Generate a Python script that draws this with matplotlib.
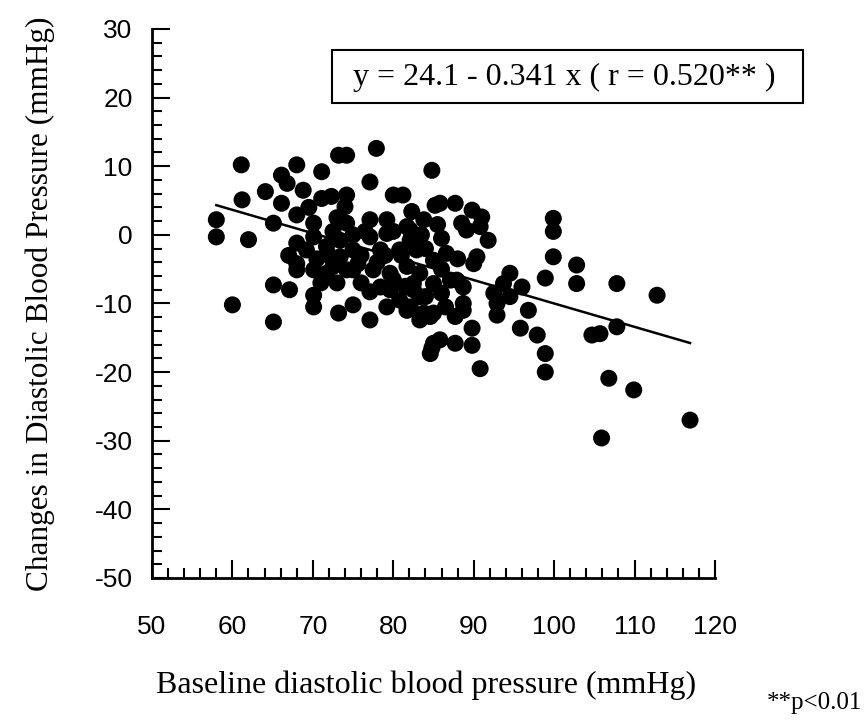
import matplotlib
matplotlib.use("Agg")
import matplotlib.pyplot as plt
import matplotlib.patches as mpatches
import numpy as np
from matplotlib.ticker import MultipleLocator

plt.rcParams["axes.unicode_minus"] = False

# Data (baseline DBP, change in DBP)
xs = [61.1, 61.2, 58.0, 58.0, 62.0, 60.0, 65.1, 65.1, 67.1, 64.1, 65.1, 68.0, 66.1, 66.1, 68.0,
      71.1, 73.2, 74.2, 77.9, 77.1, 70.1, 70.1, 68.0, 68.0, 68.0, 70.1, 70.1, 69.2, 73.2, 75.0,
      77.1, 77.1, 75.0, 72.3, 71.1, 74.2, 74.0, 66.8, 68.8, 77.1, 79.2, 77.1, 79.2, 80.0, 81.2,
      84.8, 85.2, 82.3, 83.8, 85.0, 85.0, 82.5, 83.3, 81.7, 84.6, 85.0, 84.6, 71.7, 73.4, 72.5,
      71.7, 74.2, 73.4, 77.5, 79.6, 81.7, 75.0, 75.6, 80.8, 78.4, 82.5, 81.7, 78.4, 79.6, 80.8,
      79.2, 74.2, 72.5, 70.1,
      85.8, 87.7, 89.8, 91.0, 91.8, 99.9, 99.9, 99.9, 98.9, 102.8, 102.8, 107.8, 112.8, 104.7,
      105.7, 107.8, 106.8, 109.9, 116.9, 105.9, 98.9, 98.9, 95.8, 97.9, 90.8, 94.5, 96.0, 93.7,
      92.9, 92.9, 96.8, 94.5, 84.8, 85.8, 87.7, 89.8, 89.8, 87.7, 88.7, 88.7, 88.7, 86.6, 90.0,
      90.4, 90.8, 89.1, 82.1, 82.9, 82.1, 87.1, 87.9, 83.3, 82.5, 83.3, 82.1, 83.8, 85.0,
      85.5, 88.5, 86.5, 92.5,
      72.0, 76.0, 76.5, 70.5, 73.0, 76.0, 78.0, 80.0, 81.0, 80.0, 83.5, 84.0, 86.0, 84.0, 86.0,
      69.5, 67.0, 71.0, 75.0, 73.0, 79.0, 81.5, 86.0, 88.0]
ys = [10.2, 5.1, 2.2, -0.3, -0.7, -10.2, -12.7, -7.3, -8.0, 6.3, 1.7, 10.2, 8.7, 4.6, 2.9,
      9.2, 11.6, 11.6, 12.6, 7.7, -10.5, -8.8, -5.1, -1.2, -4.2, 1.7, -0.3, -2.2, -11.4, -10.2,
      -12.4, -8.3, -2.2, 5.6, 5.3, 5.8, 4.1, 7.5, 6.5, 2.2, 2.2, -0.3, 0.2, 5.8, 5.8,
      9.4, 4.3, 3.4, 2.2, -3.7, -7.1, -7.1, -12.4, -11.0, -11.9, -15.8, -17.3, -1.7, -0.8, -4.6,
      -5.6, -5.1, -3.2, -5.1, -5.6, -4.6, -5.1, -4.2, -2.2, -2.2, -0.8, 1.2, -7.6, -8.0, -9.5,
      -10.5, 1.7, 0.5, -5.1,
      4.6, 4.6, 3.6, 2.6, -0.8, 2.4, 0.5, -3.2, -6.3, -4.4, -7.1, -7.1, -8.8, -14.6,
      -14.4, -13.4, -20.9, -22.6, -27.0, -29.6, -17.3, -20.0, -13.6, -14.6, -19.5, -5.6, -7.6, -7.1,
      -10.0, -11.7, -11.0, -9.0, -16.5, -15.3, -15.8, -13.6, -16.1, -11.9, -11.0, -7.6, -10.0, -2.7, -4.2,
      -3.2, 1.2, 0.7, -0.8, -2.2, 0.7, -6.6, -6.6, -5.6, -8.0, -9.0, -10.5, -11.4, -11.4,
      1.5, 1.7, -10.5, -8.5,
      -3.0, -3.0, 0.5, -3.5, -7.0, -7.0, -4.0, -6.5, -3.0, 0.5, 0.0, -2.0, -5.0, -9.0, -8.5,
      4.0, -3.0, -7.0, 0.0, 2.5, -3.0, -7.5, -0.5, -3.5]

intercept = 24.1
slope = -0.341
line_x = [58.0, 116.9]

x_ticks = [50, 60, 70, 80, 90, 100, 110, 120]
y_ticks = [30, 20, 10, 0, -10, -20, -30, -40, -50]

fig = plt.figure(figsize=(8.68, 7.24), dpi=100)
ax = fig.add_axes([0.1751, 0.2017, 0.6486, 0.7583])

ax.scatter(xs, ys, s=150, c="black", edgecolors="none", zorder=3)
lx = np.array(line_x)
ax.plot(lx, intercept + slope * lx, color="black", lw=1.8, zorder=4)

ax.set_xlim(50, 120)
ax.set_ylim(-50, 30)
ax.set_xticks(x_ticks)
ax.set_yticks(y_ticks)
ax.xaxis.set_minor_locator(MultipleLocator(2))
ax.yaxis.set_minor_locator(MultipleLocator(2))

for s in ["top", "right"]:
    ax.spines[s].set_visible(False)
for s in ["left", "bottom"]:
    ax.spines[s].set_linewidth(2)

ax.tick_params(axis="both", which="major", direction="in", length=13, width=1.5)
ax.tick_params(axis="both", which="minor", direction="in", length=7, width=1.5)
ax.tick_params(axis="x", which="major", pad=27)
ax.tick_params(axis="y", which="major", pad=14)

sans = "Liberation Sans"
serif = "Liberation Serif"
for lab in ax.get_xticklabels() + ax.get_yticklabels():
    lab.set_fontfamily(sans)
    lab.set_fontsize(19)

ax.set_xlabel("Baseline diastolic blood pressure (mmHg)", fontfamily=serif, fontsize=23)
ax.xaxis.set_label_coords(0.487, -0.195)
ax.xaxis.label.set_va("center")
ax.set_ylabel("Changes in Diastolic Blood Pressure (mmHg)", fontfamily=serif, fontsize=22.5)
ax.yaxis.set_label_coords(-0.199, 0.5)
ax.yaxis.label.set_va("center")

# equation box
rect = mpatches.Rectangle((332 / 868, 1 - 103 / 724), 471 / 868, 53 / 724,
                          transform=fig.transFigure, facecolor="white", edgecolor="black",
                          lw=1.5, zorder=5)
fig.patches.append(rect)
fig.text(353 / 868, 1 - 77 / 724, "y = 24.1 - 0.341 x ( r = 0.520** )",
         fontfamily=serif, fontsize=23, va="center", ha="left", zorder=6)

fig.text(862 / 868, 1 - 703 / 724, "**p<0.01", fontfamily=serif, fontsize=18, ha="right", va="center")

fig.savefig("out.png", dpi=100)
